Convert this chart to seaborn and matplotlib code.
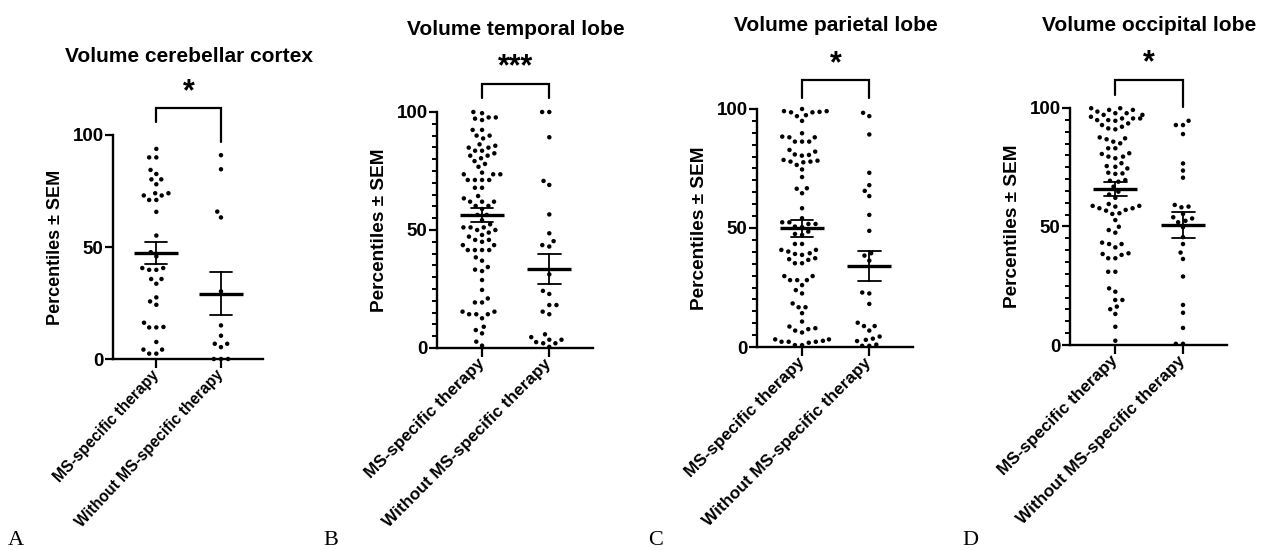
import numpy as np
import pandas as pd
import matplotlib
matplotlib.use("Agg")
import matplotlib.pyplot as plt
from matplotlib.ticker import MultipleLocator
import seaborn as sns

sns.set_style("ticks")
plt.rcParams["font.family"] = ["Liberation Sans", "DejaVu Sans"]
plt.rcParams["font.weight"] = "bold"
plt.rcParams["axes.labelweight"] = "bold"
for k in ["text.color", "axes.labelcolor", "xtick.color", "ytick.color", "axes.edgecolor"]:
    plt.rcParams[k] = "black"

groups = ["MS-specific therapy", "Without MS-specific therapy"]
titles = ["Volume cerebellar cortex", "Volume temporal lobe", "Volume parietal lobe", "Volume occipital lobe"]
stars = ["*", "***", "*", "*"]
letters = ["A", "B", "C", "D"]

# percentiles
cerebellar_ms = [93.8, 90.0, 90.0, 84.4, 82.6, 80.2, 80.2, 78.0, 74.0, 74.0, 73.0, 73.0, 71.0, 71.0,
                 65.7, 55.1, 47.7, 45.8, 40.6, 40.6, 39.8, 39.8, 35.7, 35.7, 33.6, 27.5, 25.7, 24.2,
                 16.2, 14.1, 14.1, 14.3, 7.6, 4.2, 4.2, 2.4, 2.4]
cerebellar_no = [91.0, 84.7, 65.8, 63.2, 30.2, 15.0, 10.4, 6.8, 6.8, 5.3, 0.0, 0.0, 0.0]

temporal_ms = [100, 99.5, 97.7, 97.7, 97.2, 96.6, 92.4, 92.4, 90, 90, 88.8, 86.3, 85.7, 84.9, 84.9,
               83.6, 83.6, 82.5, 81.5, 81.5, 80.4, 79.2, 78, 76.8, 74.3, 73.6, 73.6, 73.6, 71.2, 71.2,
               71.2, 71.2, 67.9, 67.9, 64.4, 63.4, 62, 62, 62, 60.2, 60.2, 58.9, 56.4, 56.4, 54.2,
               52.4, 51.1, 51.1, 51.1, 50, 50, 48.9, 47.9, 47.2, 45.8, 45.8, 45, 43.6, 43.6, 41.5,
               41.5, 41.5, 41.5, 38.4, 37, 34.3, 33.2, 32.6, 28.8, 24.6, 21, 19.3, 19.3, 15.4, 15.4,
               14.3, 14.3, 14.3, 12.6, 9, 7.6, 6.2, 2.7, 1]
temporal_no = [100, 100, 89.3, 70.8, 69.1, 56.6, 48.6, 45.3, 43.6, 43.0, 31.2, 24.2, 22.9, 18.2,
               18.2, 15.4, 14.3, 5.8, 4.6, 3.5, 3.5, 2.5, 2.0, 2.0, 0.5]

parietal_ms = [99.1, 99.1, 97.4, 100, 98.8, 97, 95, 98.6, 98.6, 89.8, 88.1, 86.3, 86.3, 86.3, 88.1,
               88.4, 82.8, 80.9, 78.3, 77.6, 76.5, 82.1, 80.4, 77.9, 80.7, 77.9, 78.6, 74.6, 71.4,
               66.5, 64.6, 66.7, 58.3, 54.1, 52.4, 51.7, 51.7, 52.4, 50.6, 50.4, 48.5, 47.5, 47.1,
               43.3, 43.3, 40.8, 39.4, 37.3, 38.7, 36.6, 39.1, 36.9, 35.2, 40.1, 35.2, 40.8, 28.1,
               29.8, 28.1, 29.8, 28.1, 26, 23.9, 22.5, 18.3, 16.7, 16.7, 14.2, 10.7, 8.6, 7.9, 7.5,
               6.9, 6.1, 2.2, 3.2, 2.2, 3.2, 1.8, 2.2, 2.6, 0.8, 0.8]
parietal_no = [98.4, 97.0, 89.3, 73.2, 68.0, 65.6, 63.4, 55.5, 48.8, 39.4, 38.4, 36.3, 22.5, 22.9,
               18.1, 8.8, 8.8, 10.2, 6.9, 4.4, 3.0, 3.5, 2.5, 1.0, 0.5, 0.5]

occipital_ms = [99.9, 97.8, 95.6, 93.5, 92.1, 99.2, 97.1, 94.9, 99.9, 97.8, 95.6, 91.4, 99.2, 97.1,
                94.9, 91.0, 98.5, 95.6, 92.8, 96.3, 94.6, 87.2, 87.6, 85.8, 86.8, 85.1, 83.0, 80.9,
                83.0, 79.5, 80.6, 78.8, 79.5, 76.7, 75.5, 75.2, 74.5, 72.4, 72.7, 72.2, 69.3, 69.6,
                68.9, 66.8, 64.7, 63.5, 62.1, 57.7, 58.4, 55.6, 58.7, 56.7, 55.3, 58.7, 57.0, 59.5,
                57.7, 52.7, 49.9, 48.5, 47.4, 42.6, 43.2, 41.2, 42.6, 38.7, 38.0, 36.6, 36.6, 38.4,
                30.9, 30.9, 23.9, 22.5, 19.0, 19.0, 16.2, 15.1, 13.1, 7.7, 1.8]
occipital_no = [94.6, 92.8, 92.8, 89.0, 76.6, 73.6, 70.6, 59.1, 58.1, 58.4, 55.3, 53.4, 53.9, 52.4,
                51.8, 49.7, 45.5, 42.6, 39.0, 36.3, 28.9, 16.9, 13.6, 7.2, 0.5, 0.5]

panels = [(cerebellar_ms, cerebellar_no), (temporal_ms, temporal_no),
          (parietal_ms, parietal_no), (occipital_ms, occipital_no)]

# axes boxes in pixels: left, y of 0, right, y of 100
boxes = [(113, 359, 263, 135), (437, 348, 593, 112), (757, 347, 913, 109), (1070, 345, 1227, 108)]
# bracket legs (left end, right end) and letter x
legs = [(105.8, 96.9), (105.9, 105.9), (104.6, 104.6), (105.5, 100.4)]
letter_x = [8, 323, 648, 962]
# panel A was scaled a little differently in the source figure
xlab_size = [11.2, 12.3, 12.3, 12.3]
xlab_rot = [47, 45, 45, 45]
ylab_size = [13, 13.7, 13.7, 13.7]

W, H = 1265, 550
fig = plt.figure(figsize=(W / 100, H / 100), dpi=100)

for i, (ms, no) in enumerate(panels):
    l, b, r, t = boxes[i]
    ax = fig.add_axes([l / W, 1 - b / H, (r - l) / W, (b - t) / H])
    df = pd.DataFrame({"group": [groups[0]] * len(ms) + [groups[1]] * len(no),
                       "value": list(ms) + list(no)})

    sns.swarmplot(data=df, x="group", y="value", order=groups, color="black", size=3.2,
                  linewidth=1.7, edgecolor="none", ax=ax, warn_thresh=1)
    for c in ax.collections:
        c.set_clip_on(False)
    sns.pointplot(data=df, x="group", y="value", order=groups, errorbar="se", color="black",
                  capsize=0.34, linestyle="none", marker="_", markersize=31, markeredgewidth=2.4,
                  err_kws={"linewidth": 1.3, "zorder": 6}, zorder=7, ax=ax)

    ax.set_xlim(-0.67, 1.65)
    ax.set_ylim(0, 100)
    sns.despine(ax=ax)
    for s in ["left", "bottom"]:
        ax.spines[s].set_linewidth(1.7)
    ax.set_yticks([0, 50, 100])
    if i > 0:
        ax.yaxis.set_minor_locator(MultipleLocator(5))
    ax.tick_params(axis="y", which="major", length=6, width=1.6, labelsize=13.5, pad=0.8)
    ax.tick_params(axis="y", which="minor", length=3.5, width=1.4)
    ax.tick_params(axis="x", length=6.5, width=1.6, pad=3)
    ax.set_xticks([0, 1])
    ax.set_xticklabels(groups, rotation=xlab_rot[i], ha="right", va="center", rotation_mode="anchor",
                       fontsize=xlab_size[i], fontweight="bold")
    for lab in ax.get_yticklabels():
        lab.set_fontweight("bold")
    ax.set_xlabel("")
    ax.set_ylabel("Percentiles ± SEM", fontsize=ylab_size[i], fontweight="bold", labelpad=6)

    # significance bracket
    ytop = 112
    ax.plot([0, 0, 1, 1], [legs[i][0], ytop, ytop, legs[i][1]], color="black", lw=1.6,
            clip_on=False, solid_joinstyle="miter")
    ax.text(0.5, 119, stars[i], ha="center", va="center", fontsize=22, fontweight="bold",
            clip_on=False)
    ax.text(0.5, 135, titles[i], ha="center", va="center", fontsize=15, fontweight="bold",
            clip_on=False)

    fig.text(letter_x[i] / W, 1 - 545 / H, letters[i], family="Liberation Serif",
             fontweight="normal", fontsize=16, ha="left", va="baseline")

fig.savefig("out.png", dpi=100)
